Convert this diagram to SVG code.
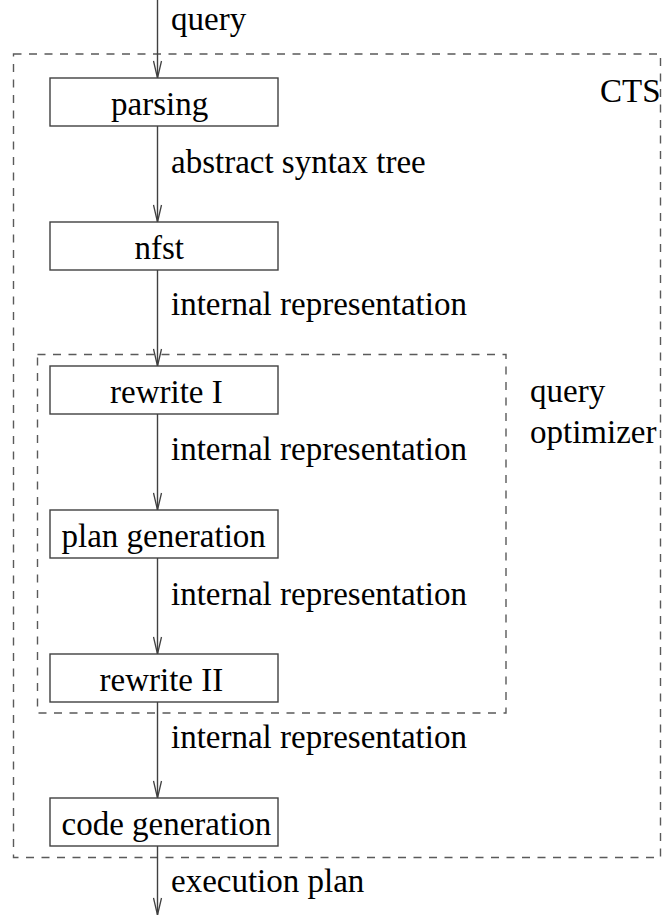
<svg xmlns="http://www.w3.org/2000/svg" width="665" height="915" viewBox="0 0 665 915">
<defs>
<style>
.box{fill:#fff;stroke:#404040;stroke-width:1.4}
.grp{fill:none;stroke:#5a5a5a;stroke-width:1.4;stroke-dasharray:8 7.5}
.edge{fill:none;stroke:#404040;stroke-width:1.4}
text{font-family:"Liberation Serif","Times New Roman",serif;font-size:33px;fill:#000}
</style>
<marker id="arr" viewBox="-18 -5 19 10" markerWidth="19" markerHeight="10" refX="0" refY="0" markerUnits="userSpaceOnUse" orient="auto">
<path d="M-17,-4 L0,0 L-17,4" fill="none" stroke="#404040" stroke-width="1.3"/>
</marker>
</defs>
<g id="cts">
<rect class="grp" x="13.5" y="54" width="647" height="803.5"/>
<text x="600" y="102">CTS</text>
</g>
<g id="query-optimizer">
<rect class="grp" x="37.5" y="354.5" width="468.5" height="358.5"/>
<text x="530" y="402">query</text>
<text x="530" y="443">optimizer</text>
</g>
<g id="connectors">
<line class="edge" x1="157.5" y1="0" x2="157.5" y2="78" marker-end="url(#arr)"/>
<line class="edge" x1="157.5" y1="126" x2="157.5" y2="222" marker-end="url(#arr)"/>
<line class="edge" x1="157.5" y1="270" x2="157.5" y2="366" marker-end="url(#arr)"/>
<line class="edge" x1="157.5" y1="414" x2="157.5" y2="510" marker-end="url(#arr)"/>
<line class="edge" x1="157.5" y1="558" x2="157.5" y2="654" marker-end="url(#arr)"/>
<line class="edge" x1="157.5" y1="702" x2="157.5" y2="798" marker-end="url(#arr)"/>
<line class="edge" x1="157.5" y1="846" x2="157.5" y2="915" marker-end="url(#arr)"/>
<text x="171" y="30">query</text>
<text x="171" y="173">abstract syntax tree</text>
<text x="171" y="315">internal representation</text>
<text x="171" y="460">internal representation</text>
<text x="171" y="605">internal representation</text>
<text x="171" y="748">internal representation</text>
<text x="171" y="892">execution plan</text>
</g>
<g id="parsing">
<rect class="box" x="50" y="78" width="228" height="48"/>
<text x="111" y="115">parsing</text>
</g>
<g id="nfst">
<rect class="box" x="50" y="222" width="228" height="48"/>
<text x="134.5" y="259">nfst</text>
</g>
<g id="rewrite-I">
<rect class="box" x="50" y="366" width="228" height="48"/>
<text x="110" y="403">rewrite I</text>
</g>
<g id="plan-generation">
<rect class="box" x="50" y="510" width="228" height="48"/>
<text x="61.5" y="547">plan generation</text>
</g>
<g id="rewrite-II">
<rect class="box" x="50" y="654" width="228" height="48"/>
<text x="99.5" y="691">rewrite II</text>
</g>
<g id="code-generation">
<rect class="box" x="50" y="798" width="228" height="48"/>
<text x="61.5" y="835">code generation</text>
</g>
</svg>
